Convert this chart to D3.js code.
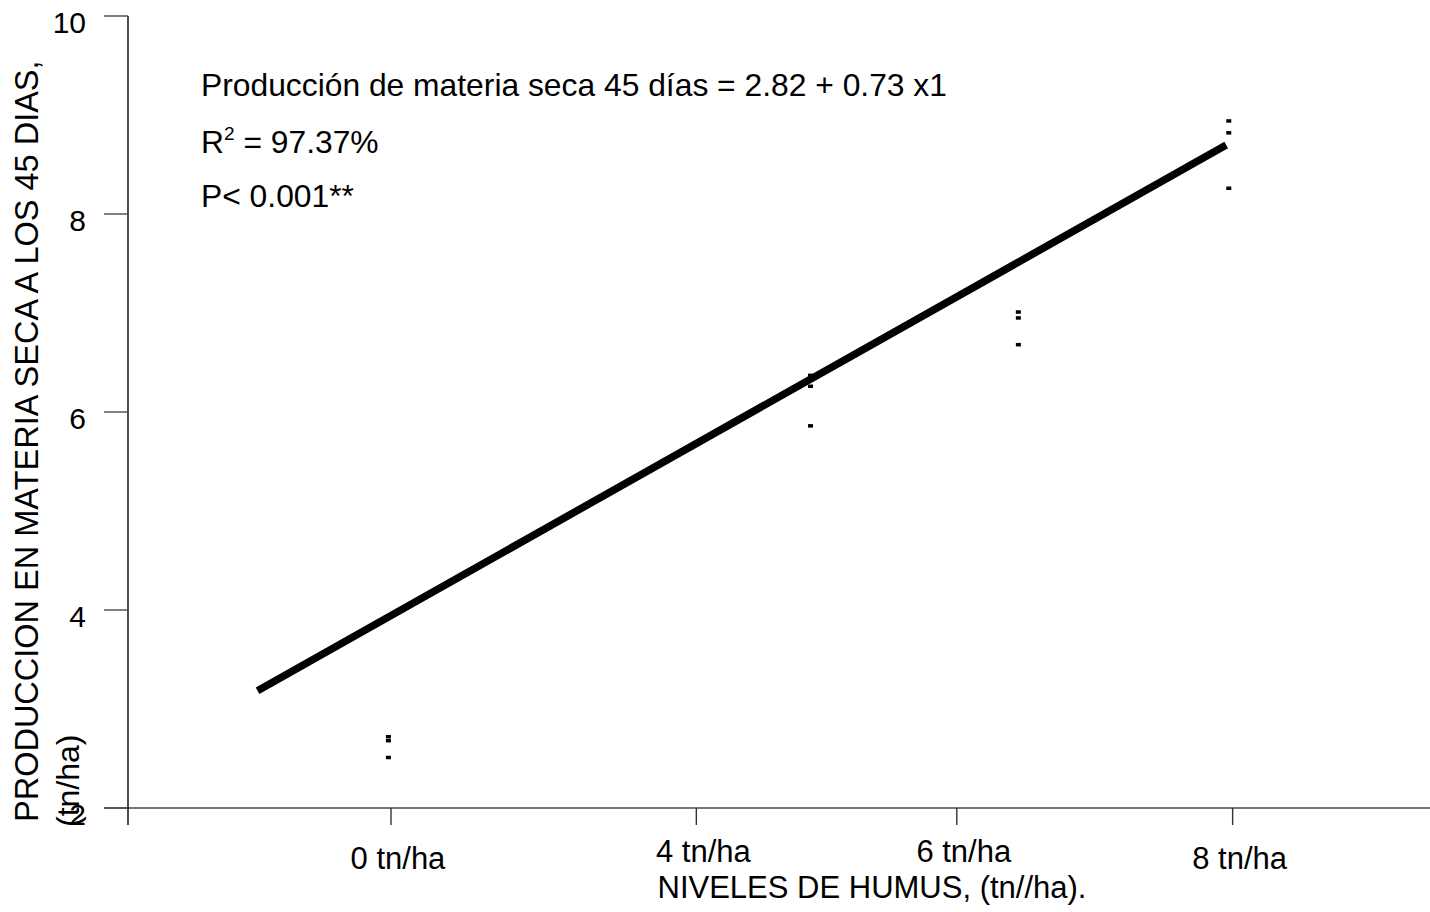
<!DOCTYPE html>
<html>
<head>
<meta charset="utf-8">
<script src="https://cdn.jsdelivr.net/npm/d3@7"></script>
<style>
  html, body { margin: 0; padding: 0; background: #fff; }
  svg { display: block; font-family: "Liberation Sans", Arial, sans-serif; }
</style>
</head>
<body>
<svg id="chart" width="1430" height="912"></svg>
<script>
// Humus level categories shown on the x axis and where each tick sits (x1 units)
const xTickLabels = ["0 tn/ha", "4 tn/ha", "6 tn/ha", "8 tn/ha"];
const xTickPositions = [1.54, 3.92, 5.95, 8.10];

// Replicate positions along x1 and the dry-matter yields (tn/ha) at 45 days
const pointX = [1.52, 4.81, 6.43, 8.07];
const yieldRep1 = [2.72, 6.37, 7.01, 8.94];
const yieldRep2 = [2.68, 6.26, 6.95, 8.82];
const yieldRep3 = [2.51, 5.86, 6.68, 8.26];

// Fitted regression: y = 2.82 + 0.73 x1
const intercept = 2.82;
const slope = 0.73;
const fitDomain = [0.5, 8.05];

const yTicks = [2, 4, 6, 8, 10];

const svg = d3.select("#chart");

const x = d3.scaleLinear().domain([0, 8]).range([193.4, 193.4 + 8 * 128.3]);
const y = d3.scaleLinear().domain([2, 10]).range([808, 16]);

const axisX0 = 128;   // y axis position
const axisY0 = 808;   // x axis position

// ---- axes ----
const gAx = svg.append("g");
// x axis line
gAx.append("line")
  .attr("x1", 104).attr("x2", 1430)
  .attr("y1", axisY0).attr("y2", axisY0)
  .attr("stroke", "#4a4a4a").attr("stroke-width", 1.4);
// y axis line
gAx.append("line")
  .attr("x1", axisX0).attr("x2", axisX0)
  .attr("y1", y(10)).attr("y2", 825)
  .attr("stroke", "#000").attr("stroke-width", 1.4);

// y ticks
const yt = gAx.selectAll(".ytick").data(yTicks).enter().append("g").attr("class", "ytick");
yt.append("line")
  .attr("x1", 104).attr("x2", axisX0)
  .attr("y1", d => y(d)).attr("y2", d => y(d))
  .attr("stroke", "#4a4a4a").attr("stroke-width", 1.4);
yt.append("text")
  .attr("x", 86).attr("y", d => y(d) + 17)
  .attr("text-anchor", "end")
  .attr("font-size", 30)
  .text(d => d);

// x ticks
const xt = gAx.selectAll(".xtick").data(xTickPositions).enter().append("g").attr("class", "xtick");
xt.append("line")
  .attr("x1", d => x(d)).attr("x2", d => x(d))
  .attr("y1", axisY0).attr("y2", 825)
  .attr("stroke", "#333").attr("stroke-width", 1.4);
xt.append("text")
  .attr("x", d => x(d) + 7)
  .attr("y", (d, i) => (i === 0 || i === xTickPositions.length - 1) ? 869 : 862)
  .attr("text-anchor", "middle")
  .attr("font-size", 31)
  .text((d, i) => xTickLabels[i]);

// axis titles
svg.append("text")
  .attr("x", 872).attr("y", 898)
  .attr("text-anchor", "middle")
  .attr("font-size", 31)
  .text("NIVELES DE HUMUS, (tn//ha).");

svg.append("text")
  .attr("transform", "translate(38,822) rotate(-90)")
  .attr("font-size", 32.5)
  .text("PRODUCCION EN MATERIA SECA A LOS 45 DIAS,");
svg.append("text")
  .attr("transform", "translate(79,827) rotate(-90)")
  .attr("font-size", 32)
  .text("(tn/ha)");

// ---- regression line ----
const fitLine = d3.line().x(d => x(d)).y(d => y(intercept + slope * d));
svg.append("path")
  .attr("d", fitLine(fitDomain))
  .attr("fill", "none")
  .attr("stroke", "#000")
  .attr("stroke-width", 7.5)
  .attr("stroke-linecap", "butt");

// ---- observations (small dash markers) ----
const obs = [];
[yieldRep1, yieldRep2, yieldRep3].forEach(rep => {
  rep.forEach((v, i) => obs.push({ x: pointX[i], y: v }));
});
svg.append("g").selectAll("rect").data(obs).enter().append("rect")
  .attr("x", d => x(d.x) - 2.5)
  .attr("y", d => y(d.y) - 1.75)
  .attr("width", 5).attr("height", 3.5)
  .attr("fill", "#000");

// ---- annotations ----
const ann = svg.append("g").attr("font-size", 31.8);
ann.append("text").attr("x", 201).attr("y", 96)
  .text("Producción de materia seca 45 días = 2.82 + 0.73 x1");
const r2 = ann.append("text").attr("x", 201).attr("y", 153);
r2.append("tspan").text("R");
r2.append("tspan").attr("font-size", 19).attr("dy", -13).text("2");
r2.append("tspan").attr("dy", 13).text(" = 97.37%");
ann.append("text").attr("x", 201).attr("y", 207)
  .text("P< 0.001**");
</script>
</body>
</html>
